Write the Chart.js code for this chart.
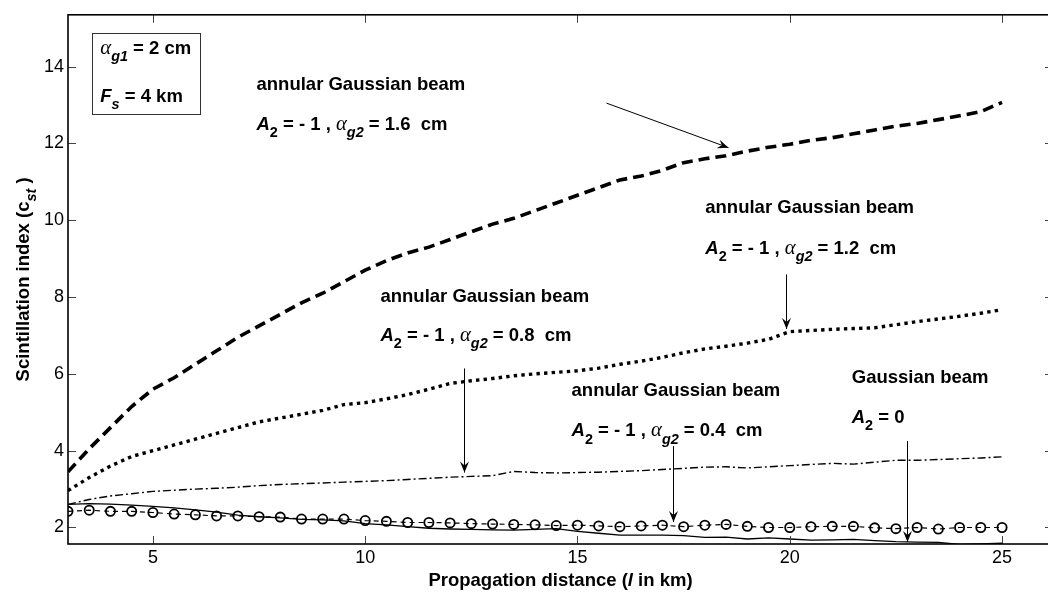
<!DOCTYPE html>
<html>
<head>
<meta charset="utf-8">
<script src="https://cdn.jsdelivr.net/npm/chart.js@4"></script>
<style>
  html, body { margin: 0; padding: 0; overflow: hidden; background: #fff; }
</style>
</head>
<body>
<canvas id="chart" width="1060" height="594"></canvas>
<script>
// ===== DATA =====
const distance = [3, 3.5, 4, 4.5, 5, 5.5, 6, 6.5, 7, 7.5, 8, 8.5, 9, 9.5, 10, 10.5, 11, 11.5, 12, 12.5,
  13, 13.5, 14, 14.5, 15, 15.5, 16, 16.5, 17, 17.5, 18, 18.5, 19, 19.5, 20, 20.5, 21, 21.5, 22, 22.5,
  23, 23.5, 24, 24.5, 25];

// annular, alpha_g2 = 1.6 cm
const beam16 = [3.45, 4.05, 4.6, 5.15, 5.6, 5.9, 6.25, 6.6, 6.95, 7.25, 7.55, 7.85, 8.1, 8.4, 8.7, 8.95,
  9.15, 9.3, 9.5, 9.7, 9.9, 10.05, 10.25, 10.45, 10.65, 10.85, 11.05, 11.15, 11.3, 11.5, 11.6, 11.68,
  11.8, 11.9, 11.98, 12.08, 12.15, 12.25, 12.35, 12.45, 12.52, 12.62, 12.72, 12.83, 13.07];

// annular, alpha_g2 = 1.2 cm
const beam12 = [2.96, 3.3, 3.6, 3.85, 4.0, 4.15, 4.3, 4.45, 4.6, 4.75, 4.85, 4.95, 5.05, 5.2, 5.25, 5.35,
  5.46, 5.6, 5.75, 5.82, 5.88, 5.95, 6.0, 6.04, 6.08, 6.15, 6.25, 6.33, 6.43, 6.55, 6.65, 6.72, 6.8, 6.9,
  7.1, 7.13, 7.16, 7.18, 7.2, 7.28, 7.36, 7.43, 7.5, 7.58, 7.67];

// annular, alpha_g2 = 0.8 cm
const beam08 = [2.6, 2.73, 2.82, 2.88, 2.94, 2.97, 3.0, 3.02, 3.05, 3.09, 3.12, 3.14, 3.16, 3.18, 3.2, 3.22,
  3.25, 3.28, 3.31, 3.33, 3.35, 3.46, 3.43, 3.42, 3.43, 3.44, 3.46, 3.48, 3.51, 3.54, 3.57, 3.58, 3.55,
  3.58, 3.61, 3.64, 3.67, 3.65, 3.7, 3.75, 3.75, 3.77, 3.79, 3.81, 3.84];

// annular, alpha_g2 = 0.4 cm
const beam04 = [2.42, 2.45, 2.42, 2.42, 2.39, 2.35, 2.33, 2.30, 2.30, 2.28, 2.27, 2.22, 2.22, 2.22, 2.18,
  2.16, 2.13, 2.13, 2.12, 2.10, 2.09, 2.08, 2.07, 2.05, 2.06, 2.04, 2.02, 2.04, 2.06, 2.02, 2.06, 2.08,
  2.03, 2.0, 2.0, 2.02, 2.03, 2.03, 1.99, 1.97, 2.0, 1.96, 2.0, 2.0, 2.0];

// Gaussian beam, A2 = 0
const gaussian = [2.6, 2.62, 2.61, 2.58, 2.55, 2.51, 2.46, 2.4, 2.32, 2.28, 2.25, 2.21, 2.2, 2.17, 2.1,
  2.07, 2.02, 1.98, 1.96, 1.95, 1.94, 1.93, 1.95, 1.97, 1.9, 1.85, 1.8, 1.8, 1.8, 1.79, 1.74, 1.75, 1.7,
  1.73, 1.7, 1.67, 1.68, 1.69, 1.66, 1.63, 1.62, 1.61, 1.56, 1.57, 1.59];

const xTicks = [5, 10, 15, 20, 25];
const yTicks = [2, 4, 6, 8, 10, 12, 14];

// ===== TEXT HELPERS =====
const SANS = '"Liberation Sans", Arial, sans-serif';
const SERIF = '"Liberation Serif", "Times New Roman", serif';
const FS = 18.5;

const B = t => ({ t, f: 'bold' });
const BI = t => ({ t, f: 'italic bold' });
const SUB = t => ({ t, f: 'italic bold', sub: true });
const ALPHA = { t: '\u03b1', f: 'italic', serif: true, big: true };

function annLine(val) {
  return [BI('A'), { t: '2', f: 'bold', sub: true }, B(' = - 1 , '), ALPHA, SUB('g2'), B(' = ' + val + '  cm')];
}

// label positions in data units (x = left edge, y = baseline)
const notes = [
  { x: 7.44, y: 13.39, parts: [B('annular Gaussian beam')] },
  { x: 7.44, y: 12.34, parts: annLine('1.6') },
  { x: 18.01, y: 10.2, parts: [B('annular Gaussian beam')] },
  { x: 18.01, y: 9.12, parts: annLine('1.2') },
  { x: 10.36, y: 7.88, parts: [B('annular Gaussian beam')] },
  { x: 10.36, y: 6.85, parts: annLine('0.8') },
  { x: 14.86, y: 5.43, parts: [B('annular Gaussian beam')] },
  { x: 14.86, y: 4.37, parts: annLine('0.4') },
  { x: 21.46, y: 5.76, parts: [B('Gaussian beam')] },
  { x: 21.46, y: 4.73, parts: [BI('A'), { t: '2', f: 'bold', sub: true }, B(' = 0')] },
  { x: 3.76, y: 14.33, parts: [ALPHA, SUB('g1'), B(' = 2 cm')] },
  { x: 3.76, y: 13.09, parts: [BI('F'), SUB('s'), B(' = 4 km')] }
];

const arrows = [
  { from: [15.66, 13.05], to: [18.55, 11.89] },
  { from: [19.92, 8.59], to: [19.92, 7.17] },
  { from: [12.32, 6.14], to: [12.32, 3.43] },
  { from: [17.24, 4.12], to: [17.24, 2.14] },
  { from: [22.77, 4.25], to: [22.77, 1.62] }
];

const infoBox = { x1: 3.57, y1: 14.885, x2: 6.12, y2: 12.77 };

function partFont(p) {
  let s = p.sub ? FS * 0.78 : FS;
  if (p.big) s = FS * 1.12;
  return p.f + ' ' + s + 'px ' + (p.serif ? SERIF : SANS);
}

function richWidth(ctx, parts) {
  let w = 0;
  parts.forEach(p => { ctx.font = partFont(p); w += ctx.measureText(p.t).width; });
  return w;
}

function drawRich(ctx, x, y, parts) {
  let cx = x;
  ctx.textAlign = 'left';
  ctx.textBaseline = 'alphabetic';
  parts.forEach(p => {
    ctx.font = partFont(p);
    ctx.fillText(p.t, cx, y + (p.sub ? FS * 0.38 : 0));
    cx += ctx.measureText(p.t).width;
  });
}

function arrowHead(ctx, x0, y0, x1, y1) {
  const ang = Math.atan2(y1 - y0, x1 - x0);
  const len = 11, half = 4.5, notch = 7;
  ctx.beginPath();
  ctx.moveTo(x1, y1);
  ctx.lineTo(x1 - len * Math.cos(ang) + half * Math.sin(ang), y1 - len * Math.sin(ang) - half * Math.cos(ang));
  ctx.lineTo(x1 - notch * Math.cos(ang), y1 - notch * Math.sin(ang));
  ctx.lineTo(x1 - len * Math.cos(ang) - half * Math.sin(ang), y1 - len * Math.sin(ang) + half * Math.cos(ang));
  ctx.closePath();
  ctx.fill();
}

// ===== DECORATION PLUGIN =====
const decor = {
  id: 'decor',
  afterDatasetsDraw(chart) {
    const { ctx, chartArea: a, scales: { x, y } } = chart;
    ctx.save();
    ctx.fillStyle = '#000';
    ctx.strokeStyle = '#000';

    // inward ticks on all four sides
    ctx.lineWidth = 1;
    ctx.strokeStyle = '#444';
    ctx.beginPath();
    xTicks.forEach(v => {
      const px = Math.round(x.getPixelForValue(v)) + 0.5;
      ctx.moveTo(px, a.bottom); ctx.lineTo(px, a.bottom - 8);
      ctx.moveTo(px, a.top); ctx.lineTo(px, a.top + 8);
    });
    yTicks.forEach(v => {
      const py = Math.round(y.getPixelForValue(v)) + 0.5;
      ctx.moveTo(a.left, py); ctx.lineTo(a.left + 8, py);
      ctx.moveTo(a.right, py); ctx.lineTo(a.right - 8, py);
    });
    ctx.stroke();

    // axes box
    ctx.strokeStyle = '#000';
    ctx.lineWidth = 1.6;
    ctx.strokeRect(a.left, a.top, a.right - a.left, a.bottom - a.top);

    // info box
    ctx.lineWidth = 1;
    const bx1 = Math.round(x.getPixelForValue(infoBox.x1)) + 0.5;
    const bx2 = Math.round(x.getPixelForValue(infoBox.x2)) + 0.5;
    const by1 = Math.round(y.getPixelForValue(infoBox.y1)) + 0.5;
    const by2 = Math.round(y.getPixelForValue(infoBox.y2)) + 0.5;
    ctx.strokeStyle = '#333';
    ctx.strokeRect(bx1, by1, bx2 - bx1, by2 - by1);

    // labels
    notes.forEach(n => drawRich(ctx, x.getPixelForValue(n.x), y.getPixelForValue(n.y), n.parts));

    // arrows
    ctx.strokeStyle = '#000';
    ctx.lineWidth = 1;
    arrows.forEach(ar => {
      const x0 = x.getPixelForValue(ar.from[0]), y0 = y.getPixelForValue(ar.from[1]);
      const x1 = x.getPixelForValue(ar.to[0]), y1 = y.getPixelForValue(ar.to[1]);
      ctx.beginPath();
      ctx.moveTo(Math.round(x0) + 0.5, y0);
      ctx.lineTo(Math.round(x1) + 0.5, y1);
      ctx.stroke();
      arrowHead(ctx, Math.round(x0) + 0.5, y0, Math.round(x1) + 0.5, y1);
    });

    // axis titles
    const xt = [B('Propagation distance ('), BI('l'), B(' in km)')];
    const xw = richWidth(ctx, xt);
    drawRich(ctx, (a.left + a.right) / 2 - xw / 2, 586, xt);

    const yt = [B('Scintillation index (c'), SUB('st'), B(' )')];
    const yw = richWidth(ctx, yt);
    ctx.translate(29, (a.top + a.bottom) / 2);
    ctx.rotate(-Math.PI / 2);
    drawRich(ctx, -yw / 2, 0, yt);

    ctx.restore();
  }
};

// ===== CHART =====
const pts = arr => arr.map((v, i) => ({ x: distance[i], y: v }));

new Chart(document.getElementById('chart'), {
  type: 'line',
  data: {
    datasets: [
      { data: pts(beam16), borderColor: '#000', borderWidth: 3.6, borderDash: [11, 6], pointRadius: 0 },
      { data: pts(beam12), borderColor: '#000', borderWidth: 3.4, borderDash: [3.4, 4.2], pointRadius: 0 },
      { data: pts(beam08), borderColor: '#000', borderWidth: 1.4, borderDash: [8, 3, 2, 3], pointRadius: 0 },
      { data: pts(beam04), borderColor: '#000', borderWidth: 1.2, borderDash: [5, 4], pointRadius: 4.6,
        pointBorderWidth: 1.8, pointBorderColor: '#000', pointBackgroundColor: 'rgba(0,0,0,0)' },
      { data: pts(gaussian), borderColor: '#000', borderWidth: 1.3, pointRadius: 0 }
    ]
  },
  options: {
    responsive: false,
    animation: false,
    layout: { padding: { top: 10, right: 7, left: 0, bottom: 0 } },
    plugins: { legend: { display: false }, tooltip: { enabled: false } },
    elements: { line: { tension: 0 } },
    scales: {
      x: {
        type: 'linear', min: 3, max: 26.2,
        afterBuildTicks: s => { s.ticks = xTicks.map(v => ({ value: v })); },
        afterFit: s => { s.height = 50; },
        grid: { display: false, drawTicks: false },
        border: { display: false },
        ticks: { color: '#000', padding: 3, maxRotation: 0, font: { family: SANS, size: 18 } }
      },
      y: {
        type: 'linear', min: 1.57, max: 15.35,
        afterBuildTicks: s => { s.ticks = yTicks.map(v => ({ value: v })); },
        afterFit: s => { s.width = 68; },
        grid: { display: false, drawTicks: false },
        border: { display: false },
        ticks: { color: '#000', padding: 4, font: { family: SANS, size: 18 } }
      }
    }
  },
  plugins: [decor]
});
</script>
</body>
</html>
